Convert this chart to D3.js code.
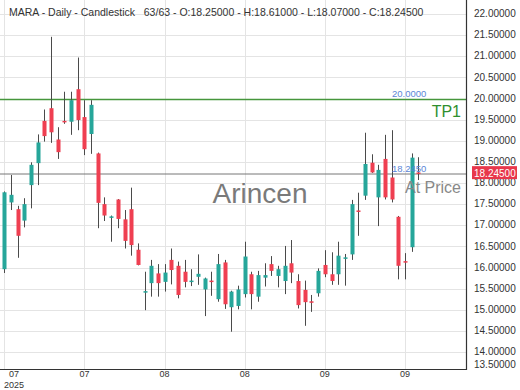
<!DOCTYPE html>
<html lang="en">
<head>
    <meta charset="UTF-8">
    <title>MARA Daily Candlestick</title>
    <script src="https://d3js.org/d3.v7.min.js"></script>
    <style>
        body { margin: 0; background: #fff; }
        svg { display: block; font-family: "Liberation Sans", Arial, sans-serif; }
    </style>
</head>
<body>
    <svg id="chart" width="520" height="390"></svg>

    <script>
        // OHLC values, one entry per trading day
        const open  = [15.96, 17.54, 17.38, 17.11, 17.95, 18.47, 19.47, 19.77, 19.03, 19.47,
                       19.45, 20.22, 19.56, 19.16, 18.70, 17.50, 17.19, 17.61, 17.14, 17.38,
                       16.42, 15.42, 15.63, 15.86, 15.66, 16.18, 16.04, 15.90, 15.67, 15.78,
                       15.48, 15.69, 15.25, 16.12, 15.06, 15.09, 15.37, 15.84, 15.31, 15.76,
                       16.08, 15.80, 15.68, 16.10, 15.68, 15.47, 15.20, 15.39, 16.06, 15.84,
                       15.84, 16.23, 16.31, 17.35, 17.70, 18.48, 17.66, 18.57, 18.13, 17.20,
                       16.15, 16.48, 18.25];
        const high  = [17.80, 18.19, 17.46, 17.64, 18.49, 19.15, 19.74, 21.46, 19.32, 20.16,
                       20.16, 20.97, 19.96, 19.96, 18.72, 17.66, 17.23, 17.62, 17.36, 17.89,
                       16.57, 15.90, 16.18, 16.08, 16.08, 16.45, 16.14, 16.18, 15.96, 16.31,
                       15.76, 15.90, 16.32, 16.18, 15.45, 15.57, 16.61, 15.90, 15.92, 16.10,
                       16.27, 16.04, 16.51, 16.65, 15.84, 15.69, 15.35, 15.98, 16.41, 16.36,
                       16.61, 16.32, 17.60, 17.77, 19.19, 18.68, 18.43, 19.14, 19.25, 17.22,
                       16.34, 18.70, 18.61];
        const low   = [15.87, 17.36, 16.23, 16.95, 17.40, 17.95, 18.98, 18.95, 18.57, 19.40,
                       19.14, 19.25, 18.66, 18.69, 16.93, 17.10, 16.61, 16.93, 16.45, 16.28,
                       16.05, 14.99, 15.31, 15.31, 15.43, 15.60, 15.27, 15.53, 15.56, 15.59,
                       14.85, 15.33, 15.19, 15.02, 14.48, 15.01, 15.29, 15.01, 15.19, 15.55,
                       15.80, 15.53, 15.37, 15.63, 15.03, 14.62, 14.95, 15.31, 15.77, 15.59,
                       15.59, 15.57, 16.18, 16.75, 17.60, 18.24, 16.98, 17.61, 17.54, 15.72,
                       15.72, 16.37, 18.07];
        const close = [17.78, 17.72, 16.75, 17.50, 18.43, 18.96, 19.11, 19.20, 18.73, 19.45,
                       19.96, 19.49, 18.80, 19.85, 17.53, 17.23, 17.21, 17.15, 16.63, 16.53,
                       16.06, 15.44, 16.04, 15.63, 15.88, 15.94, 15.35, 15.66, 15.69, 15.85,
                       15.74, 15.67, 16.08, 15.13, 15.43, 15.48, 16.26, 15.37, 15.82, 15.82,
                       15.92, 15.96, 16.04, 15.88, 15.11, 15.18, 15.18, 15.92, 15.84, 15.68,
                       16.28, 16.24, 17.50, 17.34, 18.45, 18.25, 18.31, 17.66, 17.61, 16.04,
                       16.13, 18.60, 18.245];

        // x-axis ticks (candle index -> month label)
        const tickIdx    = [0, 12, 24, 36, 48, 60];
        const tickLabels = ["07", "07", "08", "08", "09", "09"];
        const yearLabel  = "2025";

        // y-axis price levels
        const priceTicks = [13.5, 14, 14.5, 15, 15.5, 16, 16.5, 17, 17.5, 18,
                            18.5, 19, 19.5, 20, 20.5, 21, 21.5, 22];

        // reference levels
        const tpLevel = 20.0;
        const lastPrice = 18.245;

        const plotRight = 466, plotBottom = 369;
        const up = "#26a69a", down = "#ef3f51";

        const svg = d3.select("#chart");
        const idx = d3.range(open.length);

        const x = d3.scaleBand()
            .domain(idx)
            .range([-0.36, -0.36 + 63 * 6.72])
            .padding(0.4);
        const cx = i => x(i) + x.bandwidth() / 2;

        const y = d3.scaleLinear()
            .domain([18, 22])
            .range([183, 14]);

        // clip for the plot area
        svg.append("clipPath").attr("id", "plot")
            .append("rect").attr("x", 0).attr("y", 0)
            .attr("width", plotRight).attr("height", plotBottom);

        const grid = svg.append("g").attr("clip-path", "url(#plot)");

        // horizontal grid
        grid.selectAll(".hg")
            .data(priceTicks)
            .enter().append("line")
            .attr("x1", 0).attr("x2", plotRight)
            .attr("y1", d => Math.round(y(d)) + 0.5)
            .attr("y2", d => Math.round(y(d)) + 0.5)
            .attr("stroke", "#e4e4e4");

        // vertical grid
        grid.selectAll(".vg")
            .data(tickIdx)
            .enter().append("line")
            .attr("x1", d => Math.round(cx(d)) + 0.5)
            .attr("x2", d => Math.round(cx(d)) + 0.5)
            .attr("y1", 0).attr("y2", plotBottom)
            .attr("stroke", "#e4e4e4");

        // watermark
        svg.append("text")
            .attr("x", 260).attr("y", 203)
            .attr("text-anchor", "middle")
            .attr("font-size", 28)
            .attr("fill", "#7a7a7a")
            .text("Arincen");

        // take-profit line
        grid.append("line")
            .attr("x1", 0).attr("x2", plotRight)
            .attr("y1", Math.round(y(tpLevel)) + 0.5)
            .attr("y2", Math.round(y(tpLevel)) + 0.5)
            .attr("stroke", "#46963c").attr("stroke-width", 1.5);

        // current price line
        grid.append("line")
            .attr("x1", 0).attr("x2", plotRight)
            .attr("y1", Math.round(y(lastPrice)) + 1)
            .attr("y2", Math.round(y(lastPrice)) + 1)
            .attr("stroke", "#777").attr("stroke-width", 1);

        // candles
        const candle = grid.selectAll(".candle")
            .data(idx)
            .enter().append("g");

        candle.append("line")
            .attr("x1", i => Math.round(cx(i)) + 0.5)
            .attr("x2", i => Math.round(cx(i)) + 0.5)
            .attr("y1", i => y(high[i]))
            .attr("y2", i => y(low[i]))
            .attr("stroke", "#4a4a4a");

        candle.append("rect")
            .attr("x", i => Math.round(cx(i)) + 0.5 - x.bandwidth() / 2)
            .attr("width", x.bandwidth())
            .attr("y", i => y(Math.max(open[i], close[i])))
            .attr("height", i => Math.max(1.5, Math.abs(y(open[i]) - y(close[i]))))
            .attr("fill", i => close[i] >= open[i] ? up : down);

        // level labels
        svg.append("text")
            .attr("x", 392).attr("y", 97)
            .attr("font-size", 9.5).attr("fill", "#5b86d6")
            .text(tpLevel.toFixed(4));
        svg.append("text")
            .attr("x", 461).attr("y", 117)
            .attr("text-anchor", "end")
            .attr("font-size", 16).attr("fill", "#2f8f2f")
            .text("TP1");
        svg.append("text")
            .attr("x", 392).attr("y", 172)
            .attr("font-size", 9.5).attr("fill", "#5b86d6")
            .text(lastPrice.toFixed(4));
        svg.append("text")
            .attr("x", 461).attr("y", 193)
            .attr("text-anchor", "end")
            .attr("font-size", 16).attr("fill", "#888")
            .text("At Price");

        // plot border (right and bottom)
        svg.append("path")
            .attr("d", `M${plotRight + 0.5},0 V${plotBottom + 0.5} H0`)
            .attr("fill", "none").attr("stroke", "#333").attr("stroke-width", 1.2);

        // y axis labels
        const yAxis = svg.append("g")
            .attr("transform", `translate(${plotRight},0)`)
            .call(d3.axisRight(y).tickValues(priceTicks).tickSize(0).tickPadding(8)
                .tickFormat(d3.format(".5f")));
        yAxis.select(".domain").remove();
        yAxis.selectAll(".tick")
            .attr("transform", d => `translate(0,${Math.min(y(d), 365)})`);
        yAxis.selectAll("text")
            .attr("font-size", 10).attr("fill", "#333")
            .attr("font-family", "Liberation Sans, Arial, sans-serif");

        // last price tag
        const tagY = y(lastPrice);
        svg.append("rect")
            .attr("x", 472).attr("y", tagY - 6.5)
            .attr("width", 45).attr("height", 13)
            .attr("fill", "#e8374b");
        svg.append("text")
            .attr("x", 474).attr("y", tagY + 4)
            .attr("font-size", 10).attr("fill", "#fff")
            .text(lastPrice.toFixed(5));

        // x axis labels
        const xAxis = svg.append("g").attr("font-size", 9).attr("fill", "#333");
        xAxis.selectAll(".xl")
            .data(tickIdx)
            .enter().append("text")
            .attr("x", (d, i) => Math.max(cx(d), 14))
            .attr("y", 377)
            .attr("text-anchor", "middle")
            .text((d, i) => tickLabels[i]);
        xAxis.append("text")
            .attr("x", 14).attr("y", 387.5)
            .attr("text-anchor", "middle")
            .text(yearLabel);

        // title
        svg.append("text")
            .attr("x", 9).attr("y", 16)
            .attr("font-size", 10.5).attr("fill", "#333")
            .attr("xml:space", "preserve")
            .text("MARA - Daily - Candlestick   63/63 - O:18.25000 - H:18.61000 - L:18.07000 - C:18.24500");
    </script>
</body>
</html>
